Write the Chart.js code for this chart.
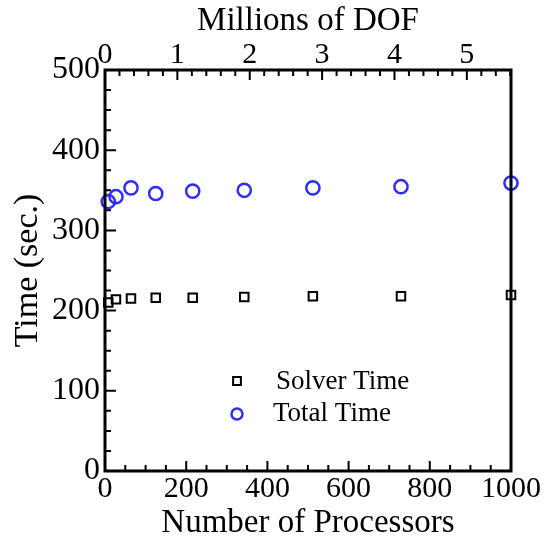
<!DOCTYPE html>
<html>
<head>
<meta charset="utf-8">
<script src="https://cdn.jsdelivr.net/npm/chart.js@4"></script>
<style>
  body { margin: 0; background: #fff; }
  #wrap { width: 547px; height: 540px; }
</style>
</head>
<body>
<div id="wrap"><canvas id="grafica" width="547" height="540"></canvas></div>
<script>
// datos
const procesadores = [8, 27, 64, 125, 216, 343, 512, 729, 1000];
const tiempoSolver = [210, 214, 215, 216, 216, 217, 218, 218, 219.5];
const tiempoTotal = [336, 342, 353, 346, 349, 350, 353, 354.5, 359];
const ticksDOF = [0, 1, 2, 3, 4, 5];
const maxDOF = 5.61;

const fuente = "'Liberation Serif', 'Times New Roman', serif";
const azul = 'rgb(45,45,255)';

// marco con ticks hacia adentro
const marco = {
  id: 'marco',
  afterDraw(chart) {
    const ctx = chart.ctx;
    const a = chart.chartArea;
    const sx = chart.scales.x, sy = chart.scales.y, st = chart.scales.x2;
    ctx.save();
    ctx.strokeStyle = '#000';
    ctx.lineWidth = 2;
    ctx.beginPath();
    for (let v = 0; v <= 1000; v += 50) {
      const px = sx.getPixelForValue(v);
      const len = v % 200 === 0 ? 10 : 6;
      ctx.moveTo(px, a.bottom); ctx.lineTo(px, a.bottom - len);
    }
    for (let v = 0; v <= 500; v += 25) {
      const py = sy.getPixelForValue(v);
      const len = v % 100 === 0 ? 11 : 6;
      ctx.moveTo(a.left, py); ctx.lineTo(a.left + len, py);
    }
    for (let i = 0; i <= 28; i++) {
      const v = i * 0.2;
      if (v > maxDOF) break;
      const px = st.getPixelForValue(v);
      const len = i % 5 === 0 ? 10 : 6;
      ctx.moveTo(px, a.top); ctx.lineTo(px, a.top + len);
    }
    ctx.stroke();
    ctx.lineWidth = 3;
    ctx.strokeRect(a.left, a.top, a.right - a.left, a.bottom - a.top);

    // leyenda
    ctx.font = '27px ' + fuente;
    ctx.textBaseline = 'middle';
    ctx.lineWidth = 2;
    ctx.strokeStyle = '#000';
    ctx.fillStyle = 'rgba(0,0,0,0)';
    Chart.helpers.drawPoint(ctx, { pointStyle: 'rect', radius: 5.5, rotation: 0, borderWidth: 2 }, 237, 381);
    ctx.strokeStyle = azul;
    ctx.lineWidth = 2.5;
    Chart.helpers.drawPoint(ctx, { pointStyle: 'circle', radius: 5.5, rotation: 0, borderWidth: 2.5 }, 237, 414);
    ctx.fillStyle = '#000';
    ctx.fillText(chart.data.datasets[0].label, 276, 382);
    ctx.fillText(chart.data.datasets[1].label, 273, 414);
    ctx.restore();
  }
};

const sinMarcas = { display: false, drawTicks: false, tickLength: 0 };

new Chart(document.getElementById('grafica'), {
  type: 'scatter',
  data: {
    datasets: [
      {
        label: 'Solver Time',
        data: procesadores.map((p, i) => ({ x: p, y: tiempoSolver[i] })),
        pointStyle: 'rect',
        pointRadius: 6,
        borderColor: '#000',
        backgroundColor: 'rgba(0,0,0,0)',
        borderWidth: 2
      },
      {
        label: 'Total Time',
        data: procesadores.map((p, i) => ({ x: p, y: tiempoTotal[i] })),
        pointStyle: 'circle',
        pointRadius: 6.6,
        borderColor: azul,
        backgroundColor: 'rgba(0,0,0,0)',
        borderWidth: 2.5
      },
      {
        label: 'dof',
        data: [],
        xAxisID: 'x2'
      }
    ]
  },
  options: {
    responsive: false,
    animation: false,
    clip: false,
    layout: { padding: { left: 0, right: 36, top: 0, bottom: 0 } },
    plugins: {
      legend: { display: false },
      tooltip: { enabled: false }
    },
    scales: {
      x: {
        type: 'linear',
        position: 'bottom',
        min: 0, max: 1000,
        afterFit(s) { s.height = 69; },
        grid: sinMarcas,
        border: { display: false },
        ticks: { stepSize: 200, padding: 0, color: '#000', font: { family: fuente, size: 30 }, maxRotation: 0,
          callback: v => String(v) },
        title: { display: true, text: 'Number of Processors', color: '#000', padding: 0, font: { family: fuente, size: 33, lineHeight: 1 } }
      },
      x2: {
        type: 'linear',
        position: 'top',
        min: 0, max: maxDOF,
        afterBuildTicks(s) { s.ticks = ticksDOF.map(v => ({ value: v })); },
        afterFit(s) { s.height = 70; },
        grid: sinMarcas,
        border: { display: false },
        ticks: { padding: 0, color: '#000', font: { family: fuente, size: 30, lineHeight: 1 }, maxRotation: 0,
          callback: v => String(v) },
        title: { display: true, text: 'Millions of DOF', color: '#000', padding: { top: 2, bottom: 0 }, font: { family: fuente, size: 33 } }
      },
      y: {
        type: 'linear',
        min: 0, max: 500,
        afterFit(s) { s.width = 105; },
        grid: sinMarcas,
        border: { display: false },
        ticks: { stepSize: 100, padding: 5, color: '#000', font: { family: fuente, size: 32 } },
        title: { display: true, text: 'Time (sec.)', color: '#000', padding: { top: 8, bottom: 0 }, font: { family: fuente, size: 34 } }
      }
    }
  },
  plugins: [marco]
});
</script>
</body>
</html>
